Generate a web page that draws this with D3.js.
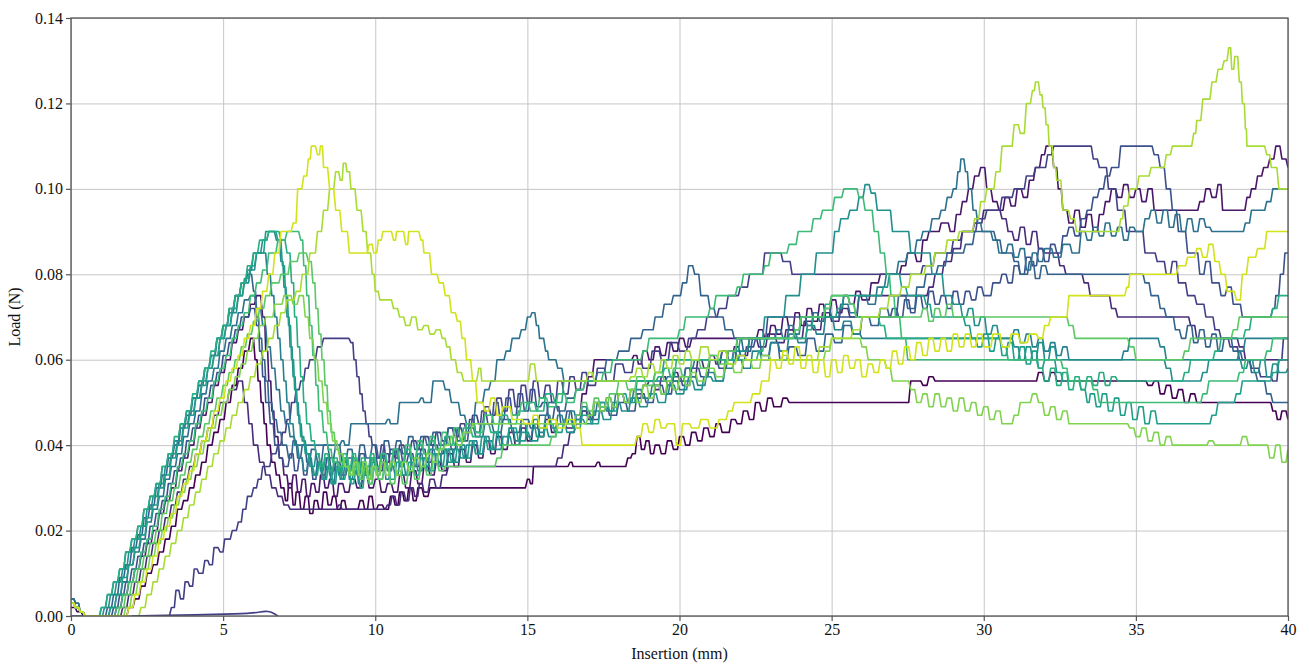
<!DOCTYPE html>
<html>
<head>
<meta charset="utf-8">
<script src="https://cdn.jsdelivr.net/npm/d3@7"></script>
<style>
  body { margin: 0; background: #fff; }
  svg { display: block; }
  svg text { font-family: "Liberation Serif", "DejaVu Serif", serif; }
</style>
</head>
<body>
<svg id="chart" width="1309" height="664"></svg>
<script>
// ticks
const xTicks = [0, 5, 10, 15, 20, 25, 30, 35, 40];
const yTicks = [0, 0.02, 0.04, 0.06, 0.08, 0.10, 0.12, 0.14];

// each trace: [insertion mm, load N], value held until the next point
const s00 = [[0,0.002],[0.2,0.001],[0.4,0],[1.9,0.002],[2.1,0.004],[2.3,0.007],[2.5,0.01],[2.7,0.012],[2.9,0.015],[3.1,0.018],[3.3,0.021],[3.5,0.025],[3.7,0.027],[3.9,0.03],[4.1,0.033],[4.3,0.036],[4.5,0.04],[4.7,0.043],[4.9,0.046],[5.1,0.05],[5.3,0.054],[5.5,0.058],[5.7,0.062],[5.9,0.065],[6.05,0.06],[6.15,0.055],[6.25,0.05],[6.35,0.045],[6.45,0.04],[6.6,0.036],[6.75,0.033],[6.9,0.03],[7.05,0.027],[7.15,0.031],[7.3,0.026],[7.4,0.029],[7.55,0.025],[7.7,0.028],[7.85,0.024],[8.0,0.027],[8.15,0.025],[8.3,0.029],[8.45,0.026],[8.6,0.028],[8.75,0.025],[8.9,0.027],[9.05,0.025],[9.3,0.025],[9.5,0.027],[9.65,0.025],[9.8,0.028],[9.95,0.025],[10.1,0.026],[10.3,0.025],[10.5,0.028],[10.65,0.026],[10.8,0.029],[10.95,0.027],[11.1,0.03],[11.25,0.027],[11.4,0.03],[11.6,0.028],[11.8,0.03],[12.0,0.03],[15.0,0.032],[15.1,0.031],[15.2,0.035],[16.4,0.036],[16.5,0.035],[17.3,0.036],[17.4,0.035],[18.3,0.037],[18.45,0.038],[18.6,0.042],[18.75,0.039],[18.9,0.041],[19.05,0.038],[19.2,0.04],[19.4,0.038],[19.6,0.041],[19.8,0.039],[20.0,0.042],[20.2,0.04],[20.4,0.043],[20.6,0.041],[20.8,0.044],[21.0,0.042],[21.2,0.045],[21.4,0.043],[21.7,0.046],[21.9,0.045],[22.1,0.048],[22.3,0.046],[22.5,0.05],[22.7,0.048],[22.9,0.051],[23.1,0.049],[23.4,0.051],[23.6,0.05],[27.6,0.055],[28.0,0.054],[28.2,0.056],[28.4,0.055],[31.8,0.057],[32.0,0.055],[32.2,0.057],[32.4,0.055],[35.4,0.054],[35.6,0.055],[35.8,0.052],[36.0,0.054],[36.2,0.051],[36.4,0.053],[36.6,0.05],[36.8,0.052],[37.0,0.05],[39.5,0.048],[39.65,0.046],[39.8,0.048],[40,0.046]];

const s01 = [[0,0.003],[0.15,0.002],[0.3,0.001],[0.45,0],[1.5,0.002],[1.7,0.005],[1.9,0.008],[2.1,0.011],[2.3,0.014],[2.5,0.017],[2.7,0.02],[2.9,0.024],[3.1,0.027],[3.3,0.03],[3.5,0.034],[3.7,0.037],[3.9,0.04],[4.1,0.044],[4.3,0.047],[4.5,0.05],[4.7,0.054],[4.9,0.057],[5.1,0.06],[5.3,0.064],[5.5,0.067],[5.7,0.07],[5.9,0.073],[6.1,0.075],[6.3,0.07],[6.4,0.062],[6.5,0.055],[6.6,0.048],[6.7,0.042],[6.85,0.037],[7.0,0.033],[7.15,0.03],[7.3,0.033],[7.45,0.029],[7.6,0.032],[7.75,0.028],[7.9,0.031],[8.05,0.029],[8.2,0.033],[8.35,0.03],[8.5,0.032],[8.65,0.028],[8.8,0.031],[9.0,0.029],[9.2,0.032],[9.4,0.03],[9.6,0.033],[9.8,0.03],[10.0,0.032],[10.2,0.029],[10.4,0.031],[10.6,0.029],[10.8,0.033],[11.0,0.03],[11.2,0.034],[11.4,0.031],[11.6,0.035],[11.8,0.033],[12.0,0.036],[12.2,0.034],[12.4,0.038],[12.6,0.035],[12.8,0.039],[13.0,0.036],[13.2,0.04],[13.4,0.037],[13.6,0.041],[13.8,0.038],[14.0,0.042],[14.2,0.039],[14.4,0.043],[14.6,0.04],[14.8,0.044],[15.0,0.041],[15.2,0.045],[15.4,0.042],[15.6,0.046],[15.8,0.043],[16.0,0.045],[16.3,0.044],[16.6,0.047],[16.8,0.052],[17.0,0.056],[17.2,0.06],[18.5,0.061],[18.65,0.059],[18.8,0.062],[19.0,0.06],[19.2,0.063],[19.4,0.061],[19.6,0.064],[19.8,0.062],[20.0,0.065],[20.2,0.063],[20.4,0.065],[22.6,0.067],[22.8,0.065],[23.0,0.068],[23.2,0.066],[23.4,0.07],[23.6,0.067],[23.8,0.071],[24.0,0.068],[24.2,0.072],[24.4,0.069],[24.6,0.073],[24.8,0.07],[25.0,0.074],[25.2,0.071],[25.4,0.075],[25.6,0.073],[25.8,0.076],[26.0,0.074],[26.3,0.078],[26.6,0.08],[27.3,0.082],[27.5,0.085],[27.8,0.083],[28.0,0.088],[28.2,0.09],[28.6,0.092],[28.9,0.09],[29.1,0.094],[29.3,0.097],[29.5,0.1],[29.7,0.103],[29.9,0.105],[30.1,0.1],[30.3,0.097],[30.5,0.095],[30.7,0.098],[30.9,0.096],[31.1,0.1],[31.3,0.098],[31.5,0.102],[31.7,0.105],[31.9,0.108],[32.05,0.11],[32.3,0.105],[32.45,0.1],[32.6,0.095],[32.8,0.092],[33.0,0.095],[33.2,0.091],[33.4,0.094],[33.6,0.09],[33.8,0.094],[34.0,0.097],[34.2,0.1],[34.4,0.098],[34.6,0.101],[34.8,0.098],[35.0,0.1],[35.2,0.097],[35.4,0.1],[35.6,0.095],[37.1,0.097],[37.3,0.1],[37.5,0.098],[37.7,0.101],[37.85,0.095],[38.65,0.098],[38.8,0.1],[39.0,0.103],[39.2,0.105],[39.4,0.107],[39.6,0.11],[39.8,0.107],[40,0.105]];

const s02 = [[0,0.004],[0.15,0.003],[0.3,0.001],[0.45,0],[1.7,0.002],[1.9,0.005],[2.1,0.008],[2.3,0.011],[2.5,0.014],[2.7,0.017],[2.9,0.02],[3.1,0.023],[3.3,0.026],[3.5,0.029],[3.7,0.032],[3.9,0.035],[4.1,0.038],[4.3,0.041],[4.5,0.044],[4.7,0.047],[4.9,0.05],[5.2,0.053],[5.5,0.055],[5.7,0.05],[5.85,0.045],[6.0,0.04],[6.2,0.036],[6.4,0.033],[6.6,0.03],[6.8,0.028],[7.0,0.026],[7.2,0.025],[8.8,0.026],[8.9,0.025],[10.4,0.026],[10.55,0.028],[10.7,0.026],[10.85,0.029],[11.0,0.027],[11.15,0.03],[11.3,0.028],[11.45,0.031],[11.6,0.029],[11.8,0.032],[12.0,0.03],[12.2,0.033],[12.4,0.035],[16.0,0.037],[16.2,0.04],[16.4,0.043],[16.6,0.045],[16.8,0.048],[17.0,0.046],[17.2,0.05],[17.4,0.048],[17.6,0.051],[17.8,0.049],[18.0,0.052],[18.2,0.05],[18.4,0.053],[18.6,0.051],[18.8,0.054],[19.0,0.055],[19.2,0.053],[19.4,0.056],[19.6,0.054],[19.8,0.057],[20.0,0.055],[20.2,0.058],[20.4,0.056],[20.6,0.06],[20.8,0.058],[21.0,0.061],[21.2,0.059],[21.4,0.062],[21.6,0.06],[21.8,0.063],[22.0,0.061],[22.3,0.065],[22.6,0.063],[22.9,0.066],[23.2,0.064],[23.5,0.067],[23.8,0.065],[24.1,0.069],[24.4,0.067],[24.7,0.071],[25.0,0.069],[25.3,0.072],[25.6,0.07],[25.9,0.075],[28.2,0.077],[28.4,0.08],[28.7,0.083],[29.0,0.086],[29.3,0.09],[29.7,0.092],[30.0,0.095],[30.6,0.093],[30.8,0.09],[31.0,0.088],[31.2,0.091],[31.4,0.087],[31.6,0.09],[31.8,0.086],[32.0,0.085],[32.5,0.082],[32.7,0.08],[33.3,0.078],[33.5,0.075],[34.2,0.072],[34.4,0.07],[36.8,0.068],[37.0,0.065],[38.4,0.063],[38.6,0.06],[40,0.06]];

const s03 = [[0,0],[3.3,0.002],[3.45,0.006],[3.6,0.004],[3.75,0.008],[3.9,0.007],[4.05,0.011],[4.2,0.01],[4.4,0.013],[4.55,0.012],[4.7,0.016],[4.9,0.015],[5.05,0.018],[5.3,0.02],[5.5,0.022],[5.65,0.025],[5.8,0.028],[6.0,0.03],[6.15,0.032],[6.3,0.035],[6.6,0.038],[6.8,0.04],[6.95,0.043],[7.1,0.046],[7.25,0.05],[7.4,0.053],[7.55,0.055],[7.7,0.058],[7.85,0.06],[8.1,0.063],[8.3,0.065],[9.2,0.064],[9.3,0.06],[9.4,0.056],[9.5,0.052],[9.6,0.048],[9.7,0.045],[9.8,0.042],[9.9,0.04],[10.05,0.037],[10.2,0.04],[10.35,0.036],[10.5,0.039],[10.65,0.037],[10.8,0.04],[11.0,0.038],[11.2,0.041],[11.4,0.039],[11.6,0.042],[11.8,0.04],[12.0,0.043],[12.2,0.041],[12.4,0.044],[12.6,0.042],[12.8,0.045],[13.0,0.043],[13.2,0.047],[13.4,0.045],[13.6,0.049],[13.8,0.047],[14.0,0.051],[14.2,0.048],[14.4,0.053],[14.6,0.049],[14.8,0.054],[15.0,0.05],[15.2,0.055],[15.4,0.051],[15.6,0.054],[15.8,0.05],[16.0,0.055],[16.2,0.052],[16.4,0.056],[16.6,0.053],[16.8,0.057],[17.0,0.054],[17.3,0.058],[17.6,0.055],[17.9,0.059],[18.2,0.057],[18.5,0.06],[18.8,0.058],[19.1,0.062],[19.4,0.06],[19.7,0.064],[20.0,0.062],[20.3,0.065],[20.6,0.067],[20.9,0.07],[21.3,0.072],[21.6,0.075],[22.0,0.077],[22.3,0.08],[22.8,0.085],[23.4,0.083],[23.7,0.08],[28.0,0.082],[28.4,0.085],[29.0,0.088],[29.3,0.09],[29.8,0.093],[30.1,0.095],[30.6,0.098],[31.0,0.1],[31.4,0.103],[31.7,0.105],[32.1,0.108],[32.3,0.11],[33.6,0.107],[33.8,0.105],[34.1,0.1],[34.4,0.095],[34.7,0.09],[35.3,0.085],[35.7,0.083],[36.0,0.08],[36.2,0.083],[36.4,0.078],[36.7,0.075],[37.0,0.073],[37.3,0.07],[37.6,0.067],[37.8,0.065],[38.1,0.063],[38.4,0.06],[38.8,0.058],[39.1,0.056],[39.5,0.055],[39.7,0.06],[39.85,0.065],[40,0.065]];

const s04 = [[0,0.003],[0.15,0.002],[0.3,0.001],[0.45,0],[1.4,0.002],[1.6,0.005],[1.8,0.008],[2.0,0.011],[2.2,0.014],[2.4,0.017],[2.6,0.021],[2.8,0.024],[3.0,0.027],[3.2,0.031],[3.4,0.034],[3.6,0.037],[3.8,0.041],[4.0,0.044],[4.2,0.047],[4.4,0.051],[4.6,0.054],[4.8,0.057],[5.0,0.061],[5.2,0.064],[5.4,0.067],[5.6,0.07],[5.9,0.072],[6.1,0.068],[6.2,0.062],[6.3,0.056],[6.4,0.05],[6.55,0.045],[6.7,0.04],[6.85,0.037],[7.0,0.035],[7.2,0.038],[7.35,0.034],[7.5,0.037],[7.65,0.033],[7.8,0.036],[7.95,0.032],[8.1,0.036],[8.25,0.033],[8.4,0.037],[8.55,0.034],[8.7,0.036],[8.9,0.033],[9.1,0.037],[9.3,0.034],[9.5,0.038],[9.7,0.035],[9.9,0.037],[10.1,0.034],[10.3,0.038],[10.5,0.035],[10.7,0.039],[10.9,0.036],[11.1,0.038],[11.3,0.035],[11.5,0.039],[11.7,0.036],[11.9,0.04],[12.1,0.038],[12.3,0.042],[12.5,0.039],[12.7,0.044],[12.9,0.041],[13.1,0.046],[13.3,0.043],[13.5,0.048],[13.7,0.045],[13.9,0.05],[14.1,0.046],[14.3,0.051],[14.5,0.047],[14.7,0.052],[14.9,0.048],[15.1,0.053],[15.3,0.049],[15.5,0.05],[15.7,0.046],[15.9,0.049],[16.1,0.045],[16.3,0.048],[16.5,0.045],[16.8,0.048],[17.1,0.046],[17.4,0.049],[17.7,0.047],[18.0,0.05],[18.3,0.048],[18.6,0.052],[18.9,0.05],[19.2,0.054],[19.5,0.052],[19.8,0.056],[20.1,0.054],[20.4,0.058],[20.7,0.056],[21.0,0.06],[21.3,0.058],[21.6,0.062],[21.9,0.06],[22.2,0.063],[22.5,0.065],[22.9,0.07],[27.0,0.072],[27.2,0.07],[27.4,0.074],[27.6,0.071],[27.8,0.075],[28.0,0.072],[28.2,0.076],[28.4,0.073],[28.6,0.075],[28.8,0.072],[29.0,0.076],[29.2,0.073],[29.4,0.076],[29.6,0.074],[29.8,0.077],[30.0,0.075],[30.3,0.078],[30.6,0.08],[30.8,0.078],[31.0,0.082],[31.2,0.08],[31.4,0.084],[31.6,0.082],[31.8,0.086],[32.0,0.083],[32.2,0.087],[32.4,0.085],[32.6,0.089],[32.8,0.091],[33.0,0.089],[33.2,0.093],[33.4,0.095],[33.6,0.098],[33.8,0.1],[34.0,0.103],[34.2,0.105],[34.5,0.11],[35.6,0.108],[35.8,0.105],[36.0,0.1],[36.2,0.095],[36.4,0.09],[36.7,0.085],[37.1,0.08],[37.3,0.083],[37.5,0.078],[37.8,0.075],[38.0,0.077],[38.2,0.073],[38.5,0.07],[39.5,0.072],[39.6,0.075],[39.75,0.08],[39.9,0.085],[40,0.085]];

const s05 = [[0,0.003],[0.15,0.002],[0.3,0.001],[0.45,0],[1.2,0.002],[1.4,0.005],[1.6,0.009],[1.8,0.012],[2.0,0.016],[2.2,0.019],[2.4,0.023],[2.6,0.026],[2.8,0.03],[3.0,0.033],[3.2,0.037],[3.4,0.04],[3.6,0.044],[3.8,0.047],[4.0,0.051],[4.2,0.054],[4.4,0.058],[4.6,0.061],[4.8,0.065],[5.0,0.068],[5.2,0.072],[5.4,0.075],[5.6,0.078],[5.8,0.08],[6.0,0.076],[6.1,0.07],[6.2,0.065],[6.3,0.06],[6.4,0.055],[6.5,0.05],[6.65,0.046],[6.8,0.043],[6.95,0.04],[7.15,0.037],[7.3,0.041],[7.45,0.037],[7.6,0.04],[7.75,0.036],[7.9,0.039],[8.1,0.036],[8.3,0.04],[8.5,0.037],[8.7,0.04],[8.9,0.036],[9.1,0.039],[9.3,0.036],[9.5,0.04],[9.7,0.037],[9.9,0.04],[10.1,0.037],[10.3,0.041],[10.5,0.038],[10.7,0.041],[10.9,0.038],[11.1,0.042],[11.3,0.039],[11.5,0.042],[11.7,0.04],[11.9,0.043],[12.1,0.04],[12.4,0.044],[12.7,0.041],[13.0,0.044],[13.3,0.042],[13.6,0.045],[13.9,0.043],[14.2,0.046],[14.5,0.043],[14.8,0.046],[15.1,0.044],[15.4,0.047],[15.7,0.05],[16.0,0.048],[16.3,0.051],[16.6,0.053],[16.9,0.055],[17.3,0.057],[17.6,0.06],[18.0,0.062],[18.4,0.065],[18.8,0.067],[19.2,0.07],[19.5,0.073],[19.8,0.075],[20.1,0.078],[20.3,0.082],[20.5,0.08],[20.7,0.075],[21.0,0.072],[21.2,0.07],[21.5,0.067],[21.8,0.065],[22.1,0.062],[22.4,0.065],[22.7,0.061],[23.0,0.064],[23.3,0.06],[23.6,0.063],[23.9,0.061],[24.2,0.065],[24.5,0.062],[24.8,0.066],[25.1,0.064],[25.4,0.068],[25.7,0.066],[26.0,0.07],[26.3,0.068],[26.6,0.072],[26.9,0.07],[27.2,0.075],[27.5,0.072],[27.8,0.077],[28.1,0.08],[28.5,0.082],[28.8,0.085],[29.4,0.087],[29.7,0.09],[30.4,0.088],[30.6,0.085],[31.0,0.083],[31.2,0.08],[31.5,0.083],[31.7,0.079],[31.9,0.082],[32.1,0.08],[35.3,0.078],[35.5,0.075],[35.8,0.072],[36.0,0.07],[36.3,0.067],[36.5,0.065],[36.7,0.068],[36.9,0.064],[37.1,0.067],[37.3,0.063],[37.5,0.066],[37.7,0.062],[37.9,0.065],[38.2,0.062],[38.5,0.06],[38.8,0.057],[39.0,0.055],[39.3,0.052],[39.5,0.05],[40,0.05]];

const s06 = [[0,0.004],[0.15,0.003],[0.3,0.001],[0.45,0],[1.3,0.002],[1.5,0.005],[1.7,0.008],[1.9,0.012],[2.1,0.015],[2.3,0.018],[2.5,0.022],[2.7,0.025],[2.9,0.028],[3.1,0.032],[3.3,0.035],[3.5,0.038],[3.7,0.042],[3.9,0.045],[4.1,0.048],[4.3,0.052],[4.5,0.055],[4.7,0.058],[4.9,0.062],[5.1,0.065],[5.3,0.068],[5.5,0.071],[5.7,0.074],[5.9,0.075],[6.1,0.072],[6.3,0.068],[6.45,0.063],[6.6,0.058],[6.75,0.053],[6.9,0.048],[7.05,0.045],[7.2,0.042],[7.4,0.04],[8.9,0.041],[9.0,0.04],[9.2,0.045],[10.4,0.046],[10.5,0.045],[10.8,0.05],[11.5,0.051],[11.6,0.05],[11.9,0.055],[12.3,0.053],[12.5,0.05],[12.8,0.047],[13.0,0.045],[13.3,0.05],[13.6,0.053],[13.8,0.055],[14.0,0.06],[14.3,0.062],[14.5,0.065],[14.8,0.067],[15.0,0.07],[15.15,0.071],[15.3,0.068],[15.4,0.065],[15.6,0.062],[15.7,0.06],[16.0,0.058],[16.2,0.055],[19.6,0.056],[19.8,0.055],[20.2,0.058],[20.5,0.06],[21.4,0.062],[21.6,0.06],[21.9,0.065],[23.2,0.067],[23.4,0.065],[23.6,0.068],[23.8,0.066],[24.0,0.07],[24.2,0.068],[24.4,0.071],[24.6,0.069],[24.8,0.072],[25.0,0.07],[25.3,0.073],[25.6,0.071],[25.9,0.075],[26.2,0.073],[26.5,0.077],[26.8,0.08],[27.2,0.083],[27.5,0.085],[27.8,0.088],[28.0,0.09],[28.3,0.093],[28.6,0.095],[28.8,0.098],[29.0,0.1],[29.15,0.104],[29.25,0.107],[29.4,0.104],[29.5,0.1],[29.65,0.095],[29.8,0.092],[29.95,0.09],[30.3,0.088],[30.5,0.085],[30.8,0.087],[31.0,0.084],[31.2,0.086],[31.4,0.081],[31.6,0.085],[31.8,0.083],[32.0,0.086],[32.3,0.084],[32.6,0.087],[32.9,0.085],[33.2,0.09],[33.4,0.088],[33.6,0.091],[33.8,0.089],[34.0,0.092],[34.2,0.089],[34.4,0.091],[34.6,0.088],[34.8,0.091],[35.0,0.09],[35.3,0.093],[35.5,0.095],[35.7,0.092],[35.9,0.095],[36.1,0.091],[36.3,0.094],[36.5,0.09],[36.7,0.093],[36.9,0.09],[37.1,0.093],[37.3,0.091],[37.5,0.09],[38.6,0.092],[38.8,0.095],[39.3,0.097],[39.5,0.1],[40,0.1]];

const s07 = [[0,0.003],[0.15,0.002],[0.3,0.001],[0.45,0],[1.0,0.002],[1.2,0.005],[1.4,0.008],[1.6,0.011],[1.8,0.015],[2.0,0.018],[2.2,0.021],[2.4,0.025],[2.6,0.028],[2.8,0.031],[3.0,0.035],[3.2,0.038],[3.4,0.041],[3.6,0.045],[3.8,0.048],[4.0,0.051],[4.2,0.055],[4.4,0.058],[4.6,0.061],[4.8,0.065],[5.0,0.068],[5.2,0.071],[5.4,0.075],[5.6,0.078],[5.8,0.081],[6.0,0.085],[6.3,0.085],[6.45,0.08],[6.6,0.075],[6.7,0.07],[6.8,0.065],[6.9,0.06],[7.0,0.055],[7.1,0.05],[7.2,0.045],[7.35,0.04],[7.5,0.037],[7.65,0.034],[7.8,0.037],[7.95,0.033],[8.1,0.036],[8.25,0.032],[8.4,0.035],[8.55,0.031],[8.7,0.035],[8.85,0.032],[9.0,0.036],[9.15,0.032],[9.3,0.035],[9.45,0.031],[9.6,0.035],[9.75,0.032],[9.9,0.036],[10.05,0.033],[10.2,0.036],[10.35,0.032],[10.5,0.035],[10.65,0.033],[10.8,0.036],[11.0,0.033],[11.2,0.037],[11.4,0.034],[11.6,0.037],[11.8,0.034],[12.0,0.038],[12.2,0.035],[12.4,0.039],[12.6,0.036],[12.8,0.04],[13.0,0.037],[13.2,0.041],[13.4,0.038],[13.6,0.042],[13.8,0.039],[14.0,0.043],[14.2,0.04],[14.4,0.044],[14.6,0.041],[14.8,0.045],[15.0,0.042],[15.2,0.046],[15.4,0.043],[15.6,0.047],[15.8,0.044],[16.0,0.047],[16.2,0.045],[16.4,0.048],[16.6,0.046],[16.8,0.049],[17.0,0.047],[17.3,0.05],[17.6,0.048],[17.9,0.052],[18.2,0.05],[18.5,0.053],[18.8,0.051],[19.1,0.054],[19.4,0.052],[19.7,0.055],[20.0,0.053],[20.3,0.056],[20.6,0.054],[20.9,0.057],[21.2,0.055],[21.5,0.058],[21.8,0.06],[22.1,0.058],[22.4,0.062],[22.7,0.06],[23.0,0.064],[23.3,0.062],[23.6,0.066],[23.9,0.064],[24.2,0.068],[24.5,0.066],[24.8,0.07],[25.1,0.067],[25.4,0.069],[25.7,0.066],[26.0,0.065],[31.0,0.067],[31.2,0.064],[31.4,0.066],[31.6,0.063],[31.8,0.065],[32.0,0.062],[32.2,0.064],[32.4,0.061],[32.6,0.063],[32.8,0.06],[34.6,0.062],[34.8,0.065],[35.8,0.063],[36.0,0.06],[38.4,0.062],[38.6,0.065],[40,0.065]];

const s08 = [[0,0.003],[0.15,0.002],[0.3,0.001],[0.45,0],[1.1,0.002],[1.3,0.005],[1.5,0.008],[1.7,0.011],[1.9,0.015],[2.1,0.018],[2.3,0.021],[2.5,0.025],[2.7,0.028],[2.9,0.031],[3.1,0.035],[3.3,0.038],[3.5,0.041],[3.7,0.045],[3.9,0.048],[4.1,0.051],[4.3,0.055],[4.5,0.058],[4.7,0.061],[4.9,0.065],[5.1,0.068],[5.3,0.071],[5.5,0.075],[5.7,0.078],[5.9,0.081],[6.1,0.085],[6.3,0.088],[6.5,0.09],[6.75,0.088],[6.9,0.083],[7.0,0.077],[7.1,0.07],[7.2,0.063],[7.3,0.056],[7.4,0.05],[7.5,0.045],[7.6,0.041],[7.75,0.038],[7.9,0.035],[8.05,0.038],[8.2,0.034],[8.35,0.037],[8.5,0.033],[8.65,0.036],[8.8,0.033],[8.95,0.037],[9.1,0.034],[9.25,0.037],[9.4,0.033],[9.55,0.036],[9.7,0.033],[9.85,0.037],[10.0,0.034],[10.2,0.037],[10.4,0.034],[10.6,0.038],[10.8,0.035],[11.0,0.038],[11.2,0.035],[11.4,0.038],[11.6,0.035],[11.8,0.039],[12.0,0.036],[12.2,0.039],[12.4,0.036],[12.6,0.039],[12.8,0.037],[13.0,0.04],[13.3,0.038],[13.6,0.041],[13.9,0.039],[14.2,0.042],[14.5,0.04],[14.8,0.043],[15.1,0.041],[15.4,0.044],[15.7,0.042],[16.0,0.045],[16.3,0.043],[16.6,0.046],[16.9,0.045],[17.2,0.048],[17.5,0.046],[17.8,0.05],[18.1,0.048],[18.4,0.051],[18.7,0.049],[19.0,0.052],[19.3,0.05],[19.6,0.054],[19.9,0.052],[20.2,0.055],[20.5,0.053],[20.8,0.056],[21.1,0.055],[21.5,0.06],[22.0,0.062],[22.3,0.065],[22.8,0.07],[23.5,0.075],[24.0,0.08],[24.5,0.085],[25.1,0.09],[25.3,0.093],[25.6,0.095],[25.9,0.098],[26.1,0.101],[26.3,0.099],[26.5,0.095],[27.0,0.09],[27.6,0.085],[28.3,0.08],[28.7,0.075],[29.0,0.073],[29.3,0.07],[29.5,0.072],[29.7,0.068],[29.9,0.07],[30.1,0.066],[30.3,0.068],[30.5,0.065],[31.0,0.063],[31.2,0.06],[31.4,0.063],[31.6,0.06],[31.8,0.064],[32.0,0.06],[32.2,0.063],[32.4,0.06],[36.0,0.058],[36.2,0.055],[37.2,0.057],[37.4,0.06],[38.5,0.058],[38.7,0.06],[38.9,0.057],[39.1,0.06],[39.3,0.056],[39.5,0.059],[39.7,0.057],[40,0.058]];

const s09 = [[0,0.003],[0.15,0.002],[0.3,0.001],[0.45,0],[1.3,0.002],[1.5,0.005],[1.7,0.009],[1.9,0.012],[2.1,0.016],[2.3,0.019],[2.5,0.023],[2.7,0.026],[2.9,0.03],[3.1,0.033],[3.3,0.037],[3.5,0.04],[3.7,0.044],[3.9,0.047],[4.1,0.051],[4.3,0.054],[4.5,0.058],[4.7,0.061],[4.9,0.065],[5.1,0.068],[5.3,0.072],[5.5,0.075],[5.7,0.079],[5.9,0.082],[6.1,0.085],[6.4,0.09],[6.8,0.088],[6.95,0.082],[7.05,0.075],[7.15,0.068],[7.25,0.06],[7.35,0.053],[7.45,0.047],[7.55,0.042],[7.7,0.038],[7.85,0.035],[8.0,0.033],[8.15,0.036],[8.3,0.032],[8.45,0.035],[8.6,0.031],[8.75,0.035],[8.9,0.032],[9.05,0.035],[9.2,0.031],[9.35,0.034],[9.5,0.03],[9.65,0.034],[9.8,0.031],[9.95,0.035],[10.1,0.032],[10.3,0.035],[10.5,0.032],[10.7,0.036],[10.9,0.033],[11.1,0.036],[11.3,0.033],[11.5,0.037],[11.7,0.034],[11.9,0.038],[12.1,0.035],[12.3,0.039],[12.5,0.036],[12.7,0.04],[12.9,0.037],[13.1,0.041],[13.3,0.038],[13.5,0.042],[13.7,0.039],[13.9,0.043],[14.1,0.04],[14.4,0.044],[14.7,0.041],[15.0,0.045],[15.3,0.042],[15.6,0.045],[15.9,0.043],[16.2,0.046],[16.5,0.044],[16.8,0.047],[17.1,0.045],[17.4,0.05],[17.7,0.048],[18.0,0.052],[18.3,0.05],[18.6,0.055],[19.2,0.057],[19.5,0.06],[21.8,0.062],[22.0,0.065],[23.8,0.067],[24.0,0.07],[25.2,0.072],[25.4,0.075],[26.7,0.077],[26.9,0.08],[27.3,0.077],[27.5,0.075],[28.1,0.073],[28.3,0.07],[29.4,0.068],[29.6,0.065],[29.8,0.063],[30.0,0.066],[30.2,0.062],[30.4,0.065],[30.6,0.061],[30.8,0.064],[31.0,0.06],[31.2,0.063],[31.4,0.059],[31.6,0.062],[31.8,0.058],[32.0,0.06],[32.4,0.057],[32.6,0.055],[33.2,0.053],[33.4,0.05],[33.5,0.052],[33.7,0.049],[33.9,0.052],[34.1,0.048],[34.3,0.051],[34.5,0.047],[34.7,0.05],[34.9,0.046],[35.1,0.049],[35.3,0.045],[35.5,0.048],[35.7,0.045],[37.5,0.047],[37.7,0.05],[38.3,0.052],[38.5,0.055],[39.5,0.057],[39.7,0.06],[40,0.06]];

const s10 = [[0,0.003],[0.15,0.002],[0.3,0.001],[0.45,0],[1.0,0.002],[1.2,0.005],[1.4,0.008],[1.6,0.011],[1.8,0.015],[2.0,0.018],[2.2,0.021],[2.4,0.025],[2.6,0.028],[2.8,0.031],[3.0,0.035],[3.2,0.038],[3.4,0.042],[3.6,0.045],[3.8,0.048],[4.0,0.052],[4.2,0.055],[4.4,0.058],[4.6,0.062],[4.8,0.065],[5.0,0.068],[5.2,0.072],[5.4,0.075],[5.6,0.078],[5.8,0.082],[6.0,0.085],[6.2,0.088],[6.5,0.09],[6.9,0.088],[7.1,0.085],[7.25,0.078],[7.35,0.07],[7.45,0.063],[7.55,0.056],[7.65,0.05],[7.75,0.045],[7.9,0.041],[8.05,0.038],[8.2,0.035],[8.35,0.038],[8.5,0.034],[8.65,0.037],[8.8,0.034],[8.95,0.038],[9.1,0.035],[9.25,0.038],[9.4,0.034],[9.55,0.037],[9.7,0.035],[9.85,0.038],[10.0,0.035],[10.2,0.038],[10.4,0.035],[10.6,0.039],[10.8,0.036],[11.0,0.039],[11.2,0.037],[11.4,0.04],[11.6,0.038],[11.8,0.041],[12.0,0.039],[12.3,0.042],[12.6,0.04],[12.9,0.044],[13.2,0.042],[13.5,0.045],[13.8,0.043],[14.1,0.047],[14.4,0.045],[14.7,0.048],[15.0,0.05],[15.3,0.048],[15.6,0.052],[15.9,0.05],[16.2,0.055],[19.3,0.056],[19.5,0.058],[19.7,0.056],[19.9,0.06],[22.6,0.062],[22.8,0.065],[24.2,0.067],[24.4,0.07],[24.8,0.073],[25.0,0.075],[25.6,0.073],[25.8,0.07],[26.6,0.068],[26.8,0.065],[30.6,0.063],[30.8,0.06],[31.8,0.058],[32.0,0.055],[32.2,0.058],[32.4,0.054],[32.6,0.057],[32.8,0.053],[33.0,0.056],[33.2,0.053],[33.4,0.056],[33.6,0.054],[33.8,0.057],[34.0,0.054],[34.2,0.056],[34.4,0.055],[36.6,0.057],[36.8,0.06],[37.6,0.062],[37.8,0.065],[38.6,0.067],[38.8,0.07],[39.5,0.072],[39.7,0.075],[40,0.075]];

const s11 = [[0,0.003],[0.15,0.002],[0.3,0.001],[0.45,0],[1.5,0.002],[1.7,0.005],[1.9,0.008],[2.1,0.011],[2.3,0.015],[2.5,0.018],[2.7,0.021],[2.9,0.025],[3.1,0.028],[3.3,0.031],[3.5,0.035],[3.7,0.038],[3.9,0.041],[4.1,0.045],[4.3,0.048],[4.5,0.051],[4.7,0.055],[4.9,0.058],[5.1,0.061],[5.3,0.065],[5.5,0.068],[5.7,0.071],[5.9,0.075],[6.1,0.078],[6.3,0.081],[6.5,0.085],[6.8,0.088],[7.1,0.09],[7.55,0.088],[7.65,0.082],[7.75,0.075],[7.85,0.068],[7.95,0.061],[8.05,0.054],[8.15,0.048],[8.3,0.043],[8.45,0.039],[8.6,0.036],[8.8,0.035],[9.0,0.037],[9.15,0.034],[9.3,0.037],[9.45,0.033],[9.6,0.036],[9.75,0.033],[9.9,0.037],[10.05,0.034],[10.2,0.038],[10.4,0.035],[10.6,0.039],[10.8,0.036],[11.0,0.04],[11.2,0.037],[11.4,0.041],[11.6,0.038],[11.8,0.042],[12.0,0.039],[12.2,0.043],[12.4,0.04],[12.6,0.044],[12.8,0.041],[13.0,0.045],[13.3,0.043],[13.6,0.047],[13.9,0.045],[14.2,0.049],[14.5,0.047],[14.8,0.05],[15.1,0.048],[15.4,0.051],[15.7,0.049],[16.0,0.052],[16.3,0.05],[16.6,0.053],[16.9,0.055],[17.5,0.057],[17.8,0.06],[18.8,0.062],[19.0,0.065],[20.0,0.067],[20.2,0.07],[21.0,0.072],[21.2,0.075],[21.9,0.077],[22.1,0.08],[22.8,0.082],[23.0,0.085],[23.6,0.087],[23.9,0.09],[24.4,0.093],[24.7,0.095],[25.1,0.098],[25.4,0.1],[25.9,0.098],[26.1,0.095],[26.4,0.09],[26.6,0.085],[26.8,0.08],[26.95,0.075],[27.1,0.07],[27.3,0.065],[27.5,0.06],[32.6,0.058],[32.8,0.055],[33.6,0.053],[33.8,0.05],[37.2,0.052],[37.4,0.055],[38.4,0.057],[38.6,0.06],[39.3,0.062],[39.5,0.065],[40,0.065]];

const s12 = [[0,0.003],[0.15,0.002],[0.3,0.001],[0.45,0],[1.6,0.002],[1.8,0.005],[2.0,0.008],[2.2,0.011],[2.4,0.014],[2.6,0.017],[2.8,0.02],[3.0,0.024],[3.2,0.027],[3.4,0.03],[3.6,0.033],[3.8,0.036],[4.0,0.039],[4.2,0.042],[4.4,0.045],[4.6,0.048],[4.8,0.051],[5.0,0.054],[5.2,0.057],[5.4,0.06],[5.6,0.063],[5.8,0.066],[6.0,0.069],[6.2,0.072],[6.4,0.075],[6.6,0.078],[6.9,0.08],[7.2,0.083],[7.5,0.085],[7.8,0.083],[7.95,0.078],[8.05,0.072],[8.15,0.066],[8.25,0.06],[8.35,0.054],[8.45,0.048],[8.55,0.043],[8.7,0.039],[8.85,0.036],[9.0,0.035],[9.2,0.033],[9.35,0.036],[9.5,0.032],[9.65,0.035],[9.8,0.031],[9.95,0.035],[10.1,0.032],[10.3,0.035],[10.5,0.031],[10.7,0.034],[10.9,0.031],[11.1,0.035],[11.3,0.032],[11.5,0.035],[11.7,0.033],[11.9,0.036],[12.1,0.034],[12.3,0.035],[14.0,0.037],[14.2,0.04],[15.8,0.042],[16.0,0.045],[16.6,0.047],[16.8,0.05],[17.0,0.048],[17.2,0.051],[17.4,0.049],[17.7,0.052],[18.0,0.055],[18.3,0.053],[18.6,0.056],[18.9,0.054],[19.2,0.057],[19.5,0.055],[19.8,0.058],[20.1,0.056],[20.4,0.06],[20.7,0.058],[21.0,0.061],[21.3,0.059],[21.6,0.062],[21.9,0.065],[23.8,0.067],[24.0,0.07],[24.8,0.072],[25.0,0.075],[25.6,0.073],[25.8,0.07],[28.0,0.072],[28.2,0.069],[28.4,0.072],[28.6,0.07],[28.8,0.073],[29.0,0.07],[32.8,0.068],[33.0,0.065],[34.8,0.063],[35.0,0.06],[36.6,0.062],[36.8,0.065],[38.2,0.067],[38.4,0.07],[40,0.07]];

const s13 = [[0,0.003],[0.15,0.002],[0.3,0.001],[0.45,0],[1.8,0.002],[2.0,0.005],[2.2,0.008],[2.4,0.011],[2.6,0.014],[2.8,0.017],[3.0,0.02],[3.2,0.023],[3.4,0.026],[3.6,0.029],[3.8,0.032],[4.0,0.035],[4.2,0.038],[4.4,0.041],[4.6,0.044],[4.8,0.047],[5.0,0.05],[5.2,0.053],[5.4,0.056],[5.6,0.059],[5.8,0.062],[6.0,0.065],[6.2,0.068],[6.4,0.07],[6.7,0.073],[7.0,0.075],[7.3,0.073],[7.5,0.075],[7.7,0.07],[7.85,0.065],[8.0,0.06],[8.15,0.055],[8.3,0.05],[8.45,0.045],[8.6,0.041],[8.8,0.038],[9.0,0.035],[9.15,0.033],[9.3,0.036],[9.45,0.033],[9.6,0.036],[9.75,0.032],[9.9,0.035],[10.05,0.033],[10.2,0.036],[10.35,0.033],[10.5,0.036],[10.7,0.033],[10.9,0.036],[11.1,0.034],[11.3,0.037],[11.5,0.035],[11.7,0.038],[11.9,0.036],[12.1,0.039],[12.3,0.04],[12.5,0.042],[12.7,0.04],[12.9,0.043],[13.2,0.045],[17.0,0.047],[17.2,0.05],[17.4,0.048],[17.6,0.051],[17.8,0.049],[18.0,0.052],[18.2,0.05],[18.4,0.053],[18.6,0.05],[18.8,0.054],[19.0,0.051],[19.2,0.054],[19.4,0.052],[19.6,0.055],[19.8,0.053],[20.0,0.056],[20.2,0.054],[20.4,0.057],[20.6,0.055],[20.9,0.058],[21.2,0.056],[21.5,0.059],[21.8,0.057],[22.1,0.06],[22.4,0.058],[22.7,0.061],[23.0,0.06],[24.8,0.062],[25.0,0.065],[26.0,0.063],[26.2,0.06],[26.8,0.058],[27.0,0.055],[27.6,0.053],[27.8,0.05],[28.0,0.052],[28.2,0.049],[28.4,0.052],[28.6,0.049],[28.8,0.051],[29.0,0.048],[29.2,0.051],[29.4,0.048],[29.6,0.05],[29.8,0.047],[30.0,0.049],[30.2,0.046],[30.4,0.048],[30.6,0.045],[31.0,0.047],[31.2,0.05],[31.6,0.052],[31.8,0.05],[32.0,0.047],[32.2,0.049],[32.4,0.046],[32.6,0.048],[32.8,0.045],[34.8,0.044],[35.0,0.042],[35.2,0.044],[35.4,0.041],[35.6,0.043],[35.8,0.04],[36.0,0.042],[36.2,0.04],[37.4,0.041],[37.6,0.04],[38.5,0.042],[38.7,0.04],[39.2,0.04],[39.4,0.037],[39.6,0.04],[39.8,0.036],[40,0.039]];

const s14 = [[0,0.003],[0.15,0.002],[0.3,0.001],[0.45,0],[2.3,0.002],[2.5,0.005],[2.7,0.008],[2.9,0.011],[3.1,0.014],[3.3,0.017],[3.5,0.02],[3.7,0.023],[3.9,0.026],[4.1,0.029],[4.3,0.032],[4.5,0.035],[4.7,0.038],[4.9,0.041],[5.1,0.044],[5.3,0.047],[5.5,0.05],[5.7,0.053],[5.9,0.056],[6.1,0.059],[6.3,0.062],[6.5,0.065],[6.7,0.068],[6.9,0.071],[7.1,0.074],[7.4,0.076],[7.6,0.08],[7.85,0.085],[8.1,0.09],[8.3,0.095],[8.5,0.1],[8.7,0.104],[8.85,0.102],[8.95,0.106],[9.07,0.104],[9.2,0.1],[9.4,0.095],[9.6,0.09],[9.75,0.085],[9.9,0.08],[10.0,0.076],[10.15,0.074],[10.6,0.072],[10.8,0.07],[11.0,0.068],[11.2,0.07],[11.4,0.067],[11.6,0.068],[11.8,0.066],[12.0,0.067],[12.2,0.065],[12.35,0.063],[12.5,0.06],[12.7,0.057],[12.9,0.055],[13.4,0.058],[13.5,0.055],[15.1,0.059],[15.3,0.055],[17.0,0.057],[17.2,0.055],[18.4,0.056],[18.6,0.058],[18.8,0.056],[19.0,0.059],[19.2,0.057],[19.4,0.06],[19.6,0.058],[19.8,0.061],[20.0,0.059],[20.2,0.062],[20.4,0.06],[20.7,0.063],[21.0,0.06],[21.3,0.062],[21.6,0.059],[21.9,0.061],[22.2,0.06],[23.4,0.061],[23.6,0.06],[24.6,0.063],[25.0,0.065],[25.7,0.067],[26.0,0.07],[26.6,0.072],[26.9,0.075],[27.3,0.077],[27.6,0.08],[28.1,0.082],[28.4,0.085],[28.8,0.088],[29.2,0.09],[29.7,0.093],[29.9,0.097],[30.1,0.1],[30.4,0.104],[30.6,0.11],[31.0,0.115],[31.2,0.113],[31.4,0.12],[31.6,0.123],[31.7,0.125],[31.85,0.122],[31.95,0.119],[32.05,0.115],[32.15,0.11],[32.3,0.105],[32.4,0.102],[32.6,0.095],[32.85,0.093],[33.05,0.09],[34.5,0.093],[34.6,0.096],[34.8,0.1],[35.1,0.103],[35.5,0.105],[36.0,0.108],[36.2,0.11],[36.9,0.113],[37.0,0.116],[37.2,0.121],[37.5,0.125],[37.7,0.128],[37.9,0.13],[38.05,0.133],[38.15,0.128],[38.25,0.131],[38.4,0.125],[38.5,0.12],[38.6,0.114],[38.65,0.11],[39.3,0.108],[39.45,0.105],[39.7,0.1],[40,0.1]];

const s15 = [[0,0.003],[0.15,0.002],[0.3,0.001],[0.45,0],[1.9,0.002],[2.1,0.005],[2.3,0.008],[2.5,0.011],[2.7,0.014],[2.9,0.018],[3.1,0.021],[3.3,0.024],[3.5,0.028],[3.7,0.031],[3.9,0.034],[4.1,0.038],[4.3,0.041],[4.5,0.044],[4.7,0.048],[4.9,0.051],[5.1,0.055],[5.3,0.058],[5.5,0.061],[5.7,0.065],[5.9,0.068],[6.1,0.072],[6.3,0.076],[6.5,0.08],[6.7,0.085],[6.9,0.09],[7.3,0.092],[7.45,0.1],[7.65,0.103],[7.8,0.107],[7.9,0.11],[8.1,0.108],[8.2,0.11],[8.3,0.105],[8.5,0.1],[8.7,0.095],[8.9,0.09],[9.15,0.085],[9.8,0.087],[9.95,0.085],[10.1,0.088],[10.25,0.09],[10.6,0.088],[10.7,0.09],[11.0,0.087],[11.1,0.09],[11.5,0.088],[11.6,0.085],[11.85,0.08],[12.1,0.078],[12.3,0.075],[12.5,0.071],[12.7,0.069],[12.85,0.065],[13.0,0.06],[13.2,0.055],[13.35,0.05],[13.6,0.048],[13.8,0.051],[14.0,0.047],[14.2,0.049],[14.5,0.046],[14.9,0.045],[15.2,0.047],[15.4,0.044],[15.7,0.046],[16.0,0.044],[16.3,0.046],[16.6,0.044],[16.8,0.04],[18.6,0.042],[18.8,0.045],[19.0,0.043],[19.2,0.046],[19.4,0.044],[19.6,0.045],[19.9,0.04],[20.1,0.045],[20.4,0.044],[20.7,0.046],[21.0,0.044],[21.3,0.046],[21.6,0.048],[21.8,0.05],[22.4,0.052],[22.7,0.055],[23.0,0.06],[23.2,0.058],[23.4,0.062],[23.6,0.059],[23.8,0.063],[24.0,0.058],[24.2,0.061],[24.4,0.057],[24.6,0.06],[24.8,0.056],[25.0,0.06],[25.2,0.057],[25.4,0.061],[25.6,0.058],[25.8,0.06],[26.0,0.056],[26.2,0.059],[26.4,0.057],[26.6,0.06],[26.8,0.058],[27.0,0.062],[27.2,0.059],[27.4,0.063],[27.6,0.06],[27.8,0.064],[28.0,0.061],[28.2,0.065],[28.4,0.062],[28.6,0.065],[28.8,0.062],[29.0,0.066],[29.2,0.063],[29.4,0.066],[29.6,0.063],[29.8,0.066],[30.0,0.063],[30.3,0.066],[30.6,0.063],[30.9,0.066],[31.2,0.064],[31.5,0.066],[31.8,0.065],[32.0,0.068],[32.2,0.07],[32.8,0.075],[34.7,0.077],[34.8,0.08],[36.4,0.082],[36.7,0.084],[37.0,0.086],[37.2,0.084],[37.4,0.087],[37.6,0.083],[37.8,0.08],[38.0,0.076],[38.3,0.074],[38.5,0.08],[38.7,0.084],[39.0,0.086],[39.3,0.09],[40,0.09]];

// small blip near the baseline
const sTail = [[2.0,0],[6.0,0.0005],[6.2,0.001],[6.5,0.0012],[6.7,0.0005],[6.8,0]];

const series = [s00, s01, s02, s03, s04, s05, s06, s07, s08, s09, s10, s11, s12, s13, s14, s15];

const W = 1309, H = 664;
const margin = { top: 18, right: 21, bottom: 48, left: 71 };
const width = W - margin.left - margin.right;
const height = H - margin.top - margin.bottom;

const svg = d3.select('#chart');
const g = svg.append('g').attr('transform', `translate(${margin.left},${margin.top})`);

const x = d3.scaleLinear().domain([0, 40]).range([0, width]);
const y = d3.scaleLinear().domain([0, 0.14]).range([height, 0]);
const colour = i => d3.interpolateViridis(i * 0.062);

// step curve whose risers lean a little, like a sampled signal
function curveRamp(context) {
  let x0, y0, n;
  return {
    areaStart() {}, areaEnd() {},
    lineStart() { n = 0; },
    lineEnd() {},
    point(px, py) {
      px = +px; py = +py;
      if (n++ === 0) context.moveTo(px, py);
      else {
        const t = Math.min((px - x0) * 0.35, 2);
        context.lineTo(px - t, y0);
        context.lineTo(px, py);
      }
      x0 = px; y0 = py;
    }
  };
}

// grid
g.append('g')
  .attr('transform', `translate(0,${height})`)
  .call(d3.axisBottom(x).tickValues(xTicks).tickSize(-height).tickFormat(''))
  .call(a => a.select('.domain').remove())
  .call(a => a.selectAll('line').attr('stroke', '#c6c6c6').attr('stroke-width', 1));
g.append('g')
  .call(d3.axisLeft(y).tickValues(yTicks).tickSize(-width).tickFormat(''))
  .call(a => a.select('.domain').remove())
  .call(a => a.selectAll('line').attr('stroke', '#c6c6c6').attr('stroke-width', 1));

svg.append('defs').append('clipPath').attr('id', 'plot')
  .append('rect').attr('x', 0).attr('y', -2).attr('width', width).attr('height', height + 2);

const line = d3.line()
  .x(d => x(d[0]))
  .y(d => y(d[1]))
  .curve(curveRamp);

const traces = g.append('g').attr('clip-path', 'url(#plot)');

traces.selectAll('path.trace')
  .data(series)
  .enter()
  .append('path')
  .attr('class', 'trace')
  .attr('d', line)
  .attr('fill', 'none')
  .attr('stroke', (d, i) => colour(i))
  .attr('stroke-width', 1.6)
  .attr('stroke-linejoin', 'round');

traces.append('path')
  .attr('d', d3.line().x(d => x(d[0])).y(d => y(d[1])).curve(d3.curveBasis)(sTail))
  .attr('fill', 'none')
  .attr('stroke', colour(3))
  .attr('stroke-width', 1.6);

// axes
const xAxis = g.append('g')
  .attr('transform', `translate(0,${height})`)
  .call(d3.axisBottom(x).tickValues(xTicks).tickSize(5).tickPadding(3).tickFormat(d3.format('d')));
const yAxis = g.append('g')
  .call(d3.axisLeft(y).tickValues(yTicks).tickSize(5).tickPadding(3).tickFormat(d3.format('.2f')));
[xAxis, yAxis].forEach(a => {
  a.attr('font-family', null).attr('font-size', null);
  a.select('.domain').remove();
  a.selectAll('line').attr('stroke', '#555').attr('stroke-width', 1.2);
  a.selectAll('text')
    .style('font-family', '"Liberation Serif", serif')
    .style('font-size', '16px')
    .attr('fill', '#111');
});

g.append('rect')
  .attr('width', width).attr('height', height)
  .attr('fill', 'none').attr('stroke', '#555').attr('stroke-width', 1.3);

svg.append('text')
  .attr('x', margin.left + width / 2).attr('y', 659)
  .attr('text-anchor', 'middle')
  .style('font-size', '16px').attr('fill', '#111')
  .text('Insertion (mm)');

svg.append('text')
  .attr('transform', `translate(20,${margin.top + height / 2}) rotate(-90)`)
  .attr('text-anchor', 'middle')
  .style('font-size', '16px').attr('fill', '#111')
  .text('Load (N)');
</script>
</body>
</html>
